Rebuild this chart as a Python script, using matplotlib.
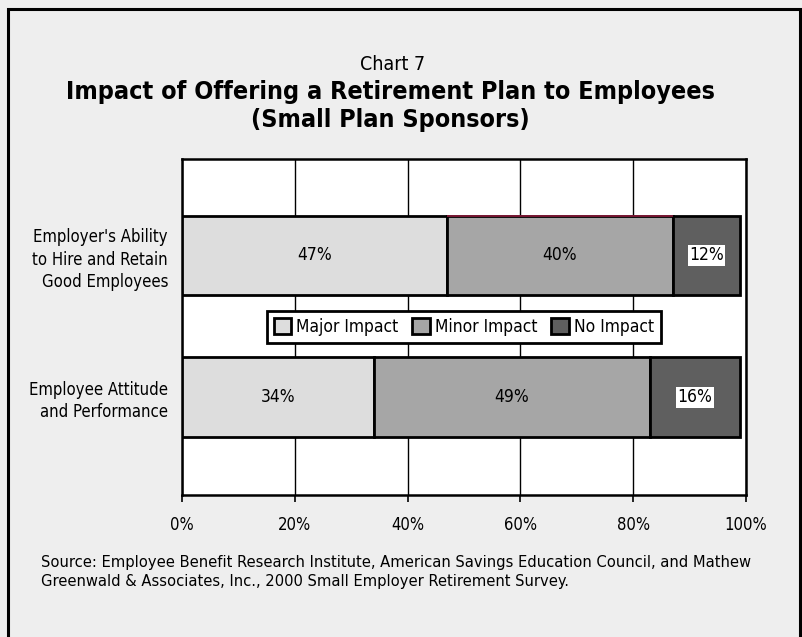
"""Chart 7: impact of offering a retirement plan (small plan sponsors), stacked bars."""

import matplotlib
matplotlib.use("Agg")
import matplotlib.pyplot as plt
from matplotlib.patches import Rectangle

# bottom-to-top order on the y axis
categories = ["Employee Attitude\nand Performance",
              "Employer's Ability\nto Hire and Retain\nGood Employees"]
series_names = ["Major Impact", "Minor Impact", "No Impact"]
major = [34, 47]
minor = [49, 40]
no_impact = [16, 12]
xticks = [0, 20, 40, 60, 80, 100]
xtick_labels = ["0%", "20%", "40%", "60%", "80%", "100%"]

COLORS = ["#dddddd", "#a6a6a6", "#5f5f5f"]
BG = "#eeeeee"
FONT = ["Liberation Sans Narrow", "DejaVu Sans"]

plt.rcParams["font.family"] = FONT
plt.rcParams["font.stretch"] = "condensed"

fig = plt.figure(figsize=(8.02, 6.37), dpi=100, facecolor=BG)
ax = fig.add_axes([0.2269, 0.2229, 0.7032, 0.5275])
ax.set_facecolor("white")

# outer frame of the whole chart (open at the bottom)
fig.patches.append(Rectangle((8 / 802, -0.05), 792 / 802, 1.05 - 9 / 637,
                             transform=fig.transFigure, fill=False,
                             edgecolor="black", linewidth=2.2))

ypos = list(range(len(categories)))
left = [0] * len(categories)
bars = []
for name, vals, col in zip(series_names, [major, minor, no_impact], COLORS):
    b = ax.barh(ypos, vals, left=left, height=0.56, color=col, edgecolor="black",
                linewidth=2.0, label=name, zorder=3)
    bars.append(b)
    for y, v, l in zip(ypos, vals, left):
        if name == "No Impact":
            ax.text(l + v / 2, y, f"{v}%", ha="center", va="center", fontsize=12.5,
                    zorder=5, bbox=dict(facecolor="white", edgecolor="none", pad=1.0))
        else:
            ax.text(l + v / 2, y, f"{v}%", ha="center", va="center", fontsize=12.5,
                    zorder=5)
    left = [a + b_ for a, b_ in zip(left, vals)]

# thin dark red edge along the top of the upper "Minor Impact" segment
r = bars[1][1]
ax.plot([r.get_x(), r.get_x() + r.get_width()], [r.get_y() + r.get_height()] * 2,
        color="#8b1a3a", linewidth=1.2, zorder=4, solid_capstyle="butt")

ax.set_xlim(0, 100)
ax.set_ylim(-0.69, 1.68)
ax.set_xticks(xticks)
ax.set_xticklabels(xtick_labels, fontsize=12)
ax.set_yticks(ypos)
ax.set_yticklabels(categories, fontsize=12, linespacing=1.3)
ax.tick_params(axis="y", length=0, pad=10)
ax.tick_params(axis="x", length=5, width=1.2, direction="out", pad=10)
ax.xaxis.grid(True, color="black", linewidth=1.0, zorder=0)
ax.set_axisbelow(True)
for s in ax.spines.values():
    s.set_linewidth(1.8)
    s.set_color("black")

leg = ax.legend(loc="center", bbox_to_anchor=(0.5, 0.5), ncol=3, fontsize=12.5,
                frameon=True, fancybox=False, edgecolor="black", facecolor="white",
                framealpha=1, handlelength=1.0, handleheight=1.0, handletextpad=0.3,
                columnspacing=0.8, borderpad=0.4)
leg.get_frame().set_linewidth(2.0)
leg.set_zorder(6)

fig.text(0.49, 1 - 65 / 637, "Chart 7", ha="center", va="center", fontsize=14)
fig.text(0.487, 1 - 106 / 637,
         "Impact of Offering a Retirement Plan to Employees\n(Small Plan Sponsors)",
         ha="center", va="center", fontsize=18, fontweight="bold",
         family="DejaVu Sans", linespacing=1.2)

fig.text(41 / 802, 1 - 572 / 637,
         "Source: Employee Benefit Research Institute, American Savings Education Council, and Mathew\n"
         "Greenwald & Associates, Inc., 2000 Small Employer Retirement Survey.",
         ha="left", va="center", fontsize=11.8, linespacing=1.3)

fig.savefig("out.png", dpi=100, facecolor=BG)
